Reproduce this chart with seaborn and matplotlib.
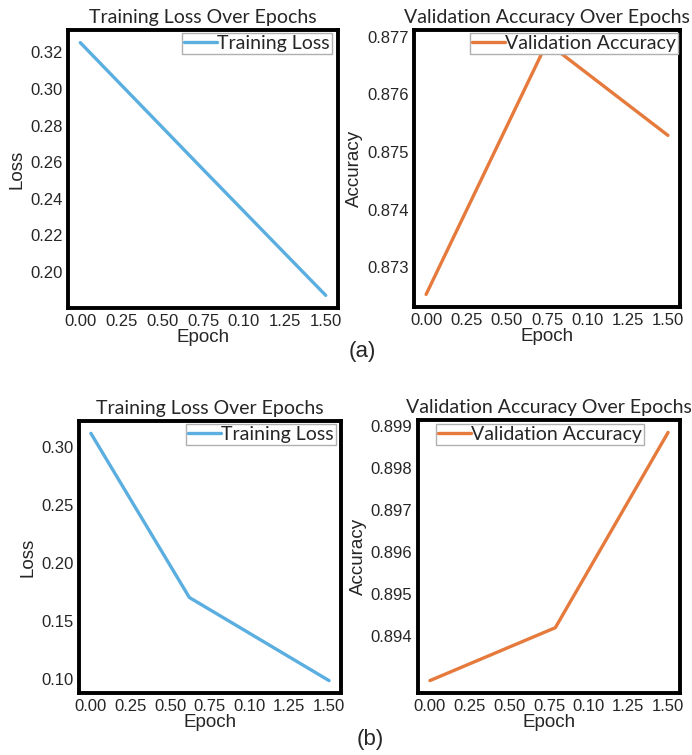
import matplotlib
import pandas as pd
import seaborn as sns

matplotlib.use("Agg")
import matplotlib.pyplot as plt

# (a) run
epochs_a_loss = [0.0, 0.75, 1.5]
loss_a = [0.3254, 0.256, 0.187]
epochs_a_acc = [0.0, 0.75, 1.5]
acc_a = [0.87253, 0.8769, 0.87529]

# (b) run
epochs_b_loss = [0.0, 0.62, 1.5]
loss_b = [0.3116, 0.1705, 0.099]
epochs_b_acc = [0.0, 0.79, 1.5]
acc_b = [0.89294, 0.8942, 0.89885]

x_ticks = [0.0, 0.25, 0.5, 0.75, 1.0, 1.25, 1.5]
x_tick_labels = ["0.00", "0.25", "0.50", "0.75", "0.10", "1.25", "1.50"]

loss_a_ticks = [0.20, 0.22, 0.24, 0.26, 0.28, 0.30, 0.32]
acc_a_ticks = [0.873, 0.874, 0.875, 0.876, 0.877]
loss_b_ticks = [0.10, 0.15, 0.20, 0.25, 0.30]
acc_b_ticks = [0.894, 0.895, 0.896, 0.897, 0.898, 0.899]

BLUE = "#5aaee0"
ORANGE = "#e57a3c"

sns.set_style("white")
plt.rcParams["font.family"] = ["Liberation Sans", "DejaVu Sans"]

fig = plt.figure(figsize=(6.92, 7.55), dpi=100)
W, H = 692, 755


def box(left, top, right, bottom):
    return [left / W, 1 - bottom / H, (right - left) / W, (bottom - top) / H]


def panel(rect, x, y, label, color, title, ylabel, yticks, yfmt, legend_anchor):
    ax = fig.add_axes(rect)
    df = pd.DataFrame({"Epoch": x, "value": y})
    sns.lineplot(data=df, x="Epoch", y="value", ax=ax, color=color,
                 linewidth=2.4, label=label)
    ax.set_xticks(x_ticks)
    ax.set_xticklabels(x_tick_labels)
    ax.set_yticks(yticks)
    ax.set_yticklabels([yfmt.format(t) for t in yticks])
    ax.tick_params(length=0, labelsize=12, pad=4)
    ax.set_title(title, fontsize=14, family="Lato", pad=5)
    ax.set_xlabel("Epoch", fontsize=13.5, labelpad=0)
    ax.set_ylabel(ylabel, fontsize=13.5, labelpad=3)
    for s in ax.spines.values():
        s.set_linewidth(2.8)
        s.set_color("black")
    leg = ax.legend(loc="upper right", bbox_to_anchor=legend_anchor,
                    frameon=True, fancybox=False, borderaxespad=0,
                    borderpad=0.1, handlelength=1.7, handletextpad=0.0,
                    framealpha=1, prop={"family": "Lato", "size": 14})
    leg.get_frame().set_edgecolor("#b0b0b0")
    leg.get_frame().set_linewidth(1.0)
    return ax


panel(box(68, 30, 338, 308), epochs_a_loss, loss_a, "Training Loss", BLUE,
      "Training Loss Over Epochs", "Loss", loss_a_ticks, "{:.2f}", (0.978, 0.989))
panel(box(414, 30, 680, 307), epochs_a_acc, acc_a, "Validation Accuracy", ORANGE,
      "Validation Accuracy Over Epochs", "Accuracy", acc_a_ticks, "{:.3f}", (0.992, 0.989))
panel(box(79, 421, 341, 693), epochs_b_loss, loss_b, "Training Loss", BLUE,
      "Training Loss Over Epochs", "Loss", loss_b_ticks, "{:.2f}", (0.981, 0.989))
panel(box(418, 420, 680, 693), epochs_b_acc, acc_b, "Validation Accuracy", ORANGE,
      "Validation Accuracy Over Epochs", "Accuracy", acc_b_ticks, "{:.3f}", (0.863, 0.985))

fig.text(362 / W, 1 - 352 / H, "(a)", fontsize=16, ha="center", va="center")
fig.text(370 / W, 1 - 740 / H, "(b)", fontsize=16, ha="center", va="center")

fig.savefig("out.png", dpi=100)
plt.close(fig)
